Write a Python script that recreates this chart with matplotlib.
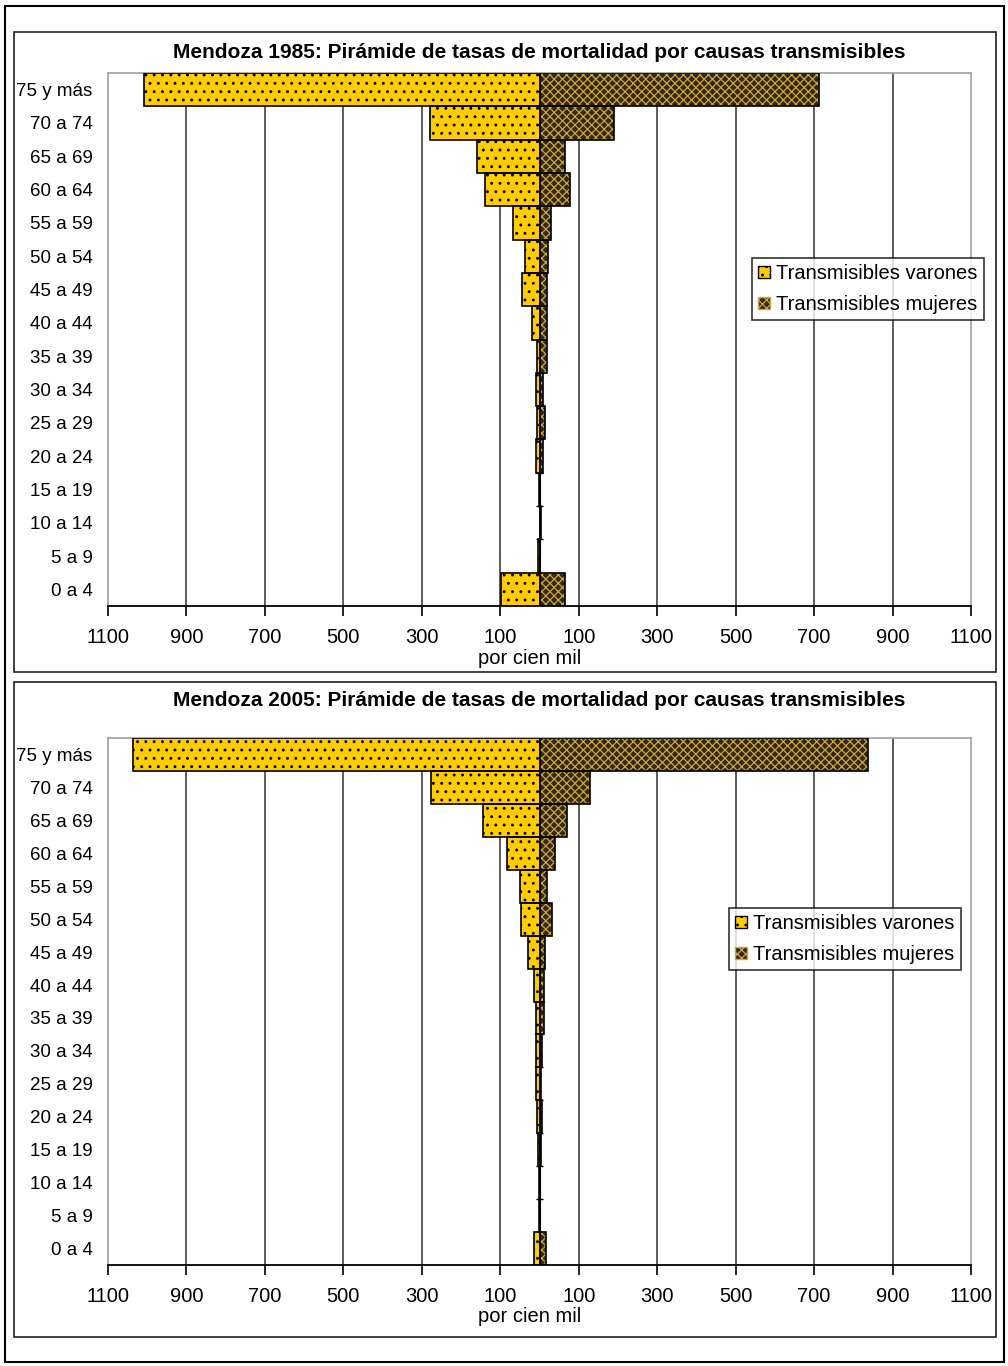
import matplotlib
matplotlib.use("Agg")
import matplotlib.pyplot as plt
from matplotlib.patches import Rectangle, Patch
import numpy as np

plt.rcParams['font.family'] = ['Liberation Sans', 'DejaVu Sans']
plt.rcParams['hatch.linewidth'] = 0.9

W, H = 1008, 1366

categories = ["0 a 4", "5 a 9", "10 a 14", "15 a 19", "20 a 24", "25 a 29",
              "30 a 34", "35 a 39", "40 a 44", "45 a 49", "50 a 54", "55 a 59",
              "60 a 64", "65 a 69", "70 a 74", "75 y más"]

# 1985 (bottom -> top)
varones_1985 = [98, 3, 0, 0.5, 8, 6, 8, 6, 20, 44, 38, 68, 140, 159, 278, 1007]
mujeres_1985 = [66, 0.5, 4, 0.5, 9, 14, 9, 18, 18, 19, 22, 30, 79, 66, 191, 712]

# 2005 (bottom -> top)
varones_2005 = [14, 1, 1, 4, 6, 9, 8, 9, 13, 29, 46, 50, 82, 144, 276, 1036]
mujeres_2005 = [17, 2, 1, 3, 7, 5, 7, 11, 11, 15, 32, 20, 39, 71, 128, 837]

tick_values = [-1100, -900, -700, -500, -300, -100, 100, 300, 500, 700, 900, 1100]
tick_labels = [str(abs(v)) for v in tick_values]

titles = ["Mendoza 1985: Pirámide de tasas de mortalidad por causas transmisibles",
          "Mendoza 2005: Pirámide de tasas de mortalidad por causas transmisibles"]
legend_labels = ["Transmisibles varones", "Transmisibles mujeres"]
xlabel = "por cien mil"

MALE_FC = '#FFCC00'
FEM_FC = '#35280c'
FEM_HATCH = '#c9a544'
FS = 14.5
FS_Y = 13.5

fig = plt.figure(figsize=(W / 100, H / 100), dpi=100)


def fx(px):
    return px / W


def fy(py):
    return 1 - py / H


# outer border and chart boxes
fig.patches.append(Rectangle((fx(5), fy(1362)), fx(1004) - fx(5), fy(6) - fy(1362),
                             transform=fig.transFigure, fill=False, edgecolor='black', lw=1.5))
for (x0, y0, x1, y1) in [(14, 32, 996, 672), (14, 682, 996, 1337)]:
    fig.patches.append(Rectangle((fx(x0), fy(y1)), fx(x1) - fx(x0), fy(y0) - fy(y1),
                                 transform=fig.transFigure, fill=False, edgecolor='#202020', lw=1.2))


def draw(ax, males, females, title_y, title, legend_box, xlabel_y):
    y = np.arange(len(categories))
    neg = -np.asarray(males, dtype=float)
    pos = np.asarray(females, dtype=float)
    for gx in tick_values[1:-1]:
        ax.axvline(gx, color='#303030', lw=1.1, zorder=1)
    ax.axvline(0, color='black', lw=0.8, zorder=1.5)
    # male bars
    ax.barh(y, neg, height=1.0, color=MALE_FC, hatch='..', edgecolor='black', lw=0, zorder=2)
    ax.barh(y, neg, height=1.0, fill=False, edgecolor='black', lw=1.2, zorder=3)
    # female bars
    ax.barh(y, pos, height=1.0, color=FEM_FC, hatch='xxxx', edgecolor=FEM_HATCH, lw=0, zorder=2)
    ax.barh(y, pos, height=1.0, fill=False, edgecolor='black', lw=1.2, zorder=3)
    # small category ticks on the zero axis
    bounds = np.arange(len(categories) + 1) - 0.5
    ax.hlines(bounds[1:-1], -8, 8, color='black', lw=1, zorder=1.6)

    ax.set_xlim(-1100, 1100)
    ax.set_ylim(-0.5, len(categories) - 0.5)
    ax.set_xticks(tick_values)
    ax.set_xticklabels(tick_labels, fontsize=FS)
    ax.set_yticks(y)
    ax.set_yticklabels(categories, fontsize=FS_Y)
    ax.tick_params(axis='y', length=0, pad=11)
    ax.tick_params(axis='x', direction='out', length=7, width=1.2, pad=9)
    for s in ['top', 'right', 'left']:
        ax.spines[s].set_color('#a0a0a0')
        ax.spines[s].set_linewidth(1.2)
    ax.spines['bottom'].set_color('black')
    ax.spines['bottom'].set_linewidth(1.3)

    fig.text(fx(539.5), fy(title_y), title, ha='center', va='center',
             fontsize=15, fontweight='bold')
    fig.text(fx(530), fy(xlabel_y), xlabel, ha='center', va='center', fontsize=FS)

    handles = [Patch(facecolor=MALE_FC, edgecolor='black', hatch='..', lw=1),
               Patch(facecolor=FEM_FC, edgecolor=FEM_HATCH, hatch='xxxx', lw=1)]
    lx0, ly0, lx1, ly1 = legend_box
    leg = ax.legend(handles, legend_labels, loc='upper left',
                    bbox_to_anchor=(fx(lx0), fy(ly0)), bbox_transform=fig.transFigure,
                    fontsize=FS, frameon=True, fancybox=False, borderaxespad=0,
                    handlelength=0.6, handleheight=0.6, handletextpad=0.3,
                    borderpad=0.3, labelspacing=0.6)
    leg.get_frame().set_edgecolor('black')
    leg.get_frame().set_linewidth(1.2)


ax1 = fig.add_axes([fx(108), fy(606), fx(971) - fx(108), fy(73) - fy(606)])
draw(ax1, varones_1985, mujeres_1985, 52, titles[0], (752, 258, 982, 319), 659)

ax2 = fig.add_axes([fx(108), fy(1265), fx(971) - fx(108), fy(738) - fy(1265)])
draw(ax2, varones_2005, mujeres_2005, 700, titles[1], (729, 908, 963, 972), 1317)

fig.savefig("out.png", dpi=100)
